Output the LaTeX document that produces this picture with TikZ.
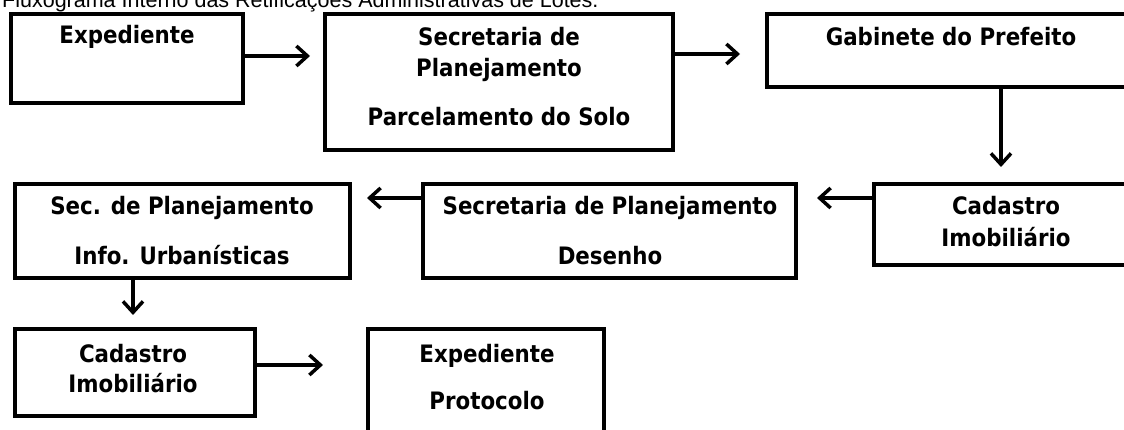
\documentclass[tikz,border=0pt]{standalone}
\usepackage{fontspec}
\setmainfont{Liberation Sans}
\newfontfamily\boxfont{DejaVu Sans}[FakeStretch=0.89]
\usetikzlibrary{arrows.meta}
\begin{document}
\begin{tikzpicture}[x=1pt,y=1pt,
  box/.style={draw=black, line width=4pt, inner sep=0pt},
  lbl/.style={font=\boxfont\bfseries\fontsize{24}{28}\selectfont, anchor=base, inner sep=0pt},
  arr/.style={line width=3.5pt, -{Straight Barb[length=11pt,width=20pt]}},
]
\useasboundingbox (0,0) rectangle (1124,430);
\clip (0,0) rectangle (1124,430);

\node[anchor=base west, inner sep=0pt, font=\fontsize{21.5}{24}\selectfont] (cap) at (2,422.5)
  {Fluxograma Interno das Retificações Administrativas de Lotes.};

% boxes
\node[box, minimum width=232pt, minimum height=89pt]  (b1)   at (127,371.5) {};
\node[box, minimum width=348pt, minimum height=136pt] (b2)   at (499,348) {};
\node[box, minimum width=368pt, minimum height=73pt]  (b3)   at (951,379.5) {};
\node[box, minimum width=264pt, minimum height=81pt]  (cad1) at (1006,205.5) {};
\node[box, minimum width=373pt, minimum height=94pt]  (des)  at (609.5,199) {};
\node[box, minimum width=335pt, minimum height=94pt]  (sec)  at (182.5,199) {};
\node[box, minimum width=240pt, minimum height=87pt]  (cad2) at (135,57.5) {};
\node[box, minimum width=236pt, minimum height=141pt] (exp2) at (486,30.5) {};

% texts
\node[lbl] (t1)  at (127,386) {Expediente};
\node[lbl] (t2a) at (499,384.5) {Secretaria de};
\node[lbl] (t2b) at (499,353) {Planejamento};
\node[lbl] (t2c) at (499,304) {Parcelamento do Solo};
\node[lbl] (t3)  at (951,384) {Gabinete do Prefeito};
\node[lbl] (t4a) at (1006,215) {Cadastro};
\node[lbl] (t4b) at (1006,183) {Imobiliário};
\node[lbl] (t5a) at (610,215) {Secretaria de Planejamento};
\node[lbl] (t5b) at (610,165) {Desenho};
\node[lbl] (t6a) at (182,215) {Sec. de Planejamento};
\node[lbl] (t6b) at (182,165) {Info. Urbanísticas};
\node[lbl] (t7a) at (133,67) {Cadastro};
\node[lbl] (t7b) at (133,37) {Imobiliário};
\node[lbl] (t8a) at (487,67) {Expediente};
\node[lbl] (t8b) at (487,20) {Protocolo};

% helper coordinates for connector levels
\coordinate (yA) at (0,374);
\coordinate (yB) at (0,376);
\coordinate (yC) at (0,232);
\coordinate (yD) at (0,65);
\coordinate (xA) at (1001,0);
\coordinate (xB) at (133,0);

% connectors
\draw[arr, shorten >=13pt] (b1.east |- yA) -- (b2.west |- yA);
\draw[arr, shorten >=25pt] (b2.east |- yB) -- (b3.west |- yB);
\draw[arr, shorten >=15pt] (b3.south -| xA) -- (cad1.north -| xA);
\draw[arr, shorten >=19pt] (cad1.west |- yC) -- (des.east |- yC);
\draw[arr, shorten >=15pt] (des.west |- yC) -- (sec.east |- yC);
\draw[arr, shorten >=12pt] (sec.south -| xB) -- (cad2.north -| xB);
\draw[arr, shorten >=43pt] (cad2.east |- yD) -- (exp2.west |- yD);
\end{tikzpicture}
\end{document}
